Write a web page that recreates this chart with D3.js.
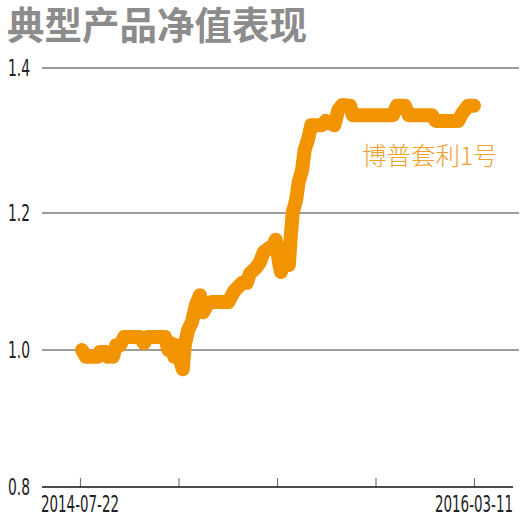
<!DOCTYPE html>
<html>
<head>
<meta charset="utf-8">
<script src="https://cdn.jsdelivr.net/npm/d3@7"></script>
<style>
    body { margin: 0; background: #fff; }
    .title { font-family: "Noto Sans CJK SC", sans-serif; font-weight: 700; fill: #8c8c8c; }
    .tick-label { font-family: "Liberation Sans Narrow", "DejaVu Sans Condensed", sans-serif; fill: #222; }
    .series-label { font-family: "Noto Sans CJK SC", sans-serif; font-weight: 300; fill: #f0a02a; }
</style>
</head>
<body>
<div id="container"></div>
<script>
// 净值数据: days after 2014-07-22, and the NAV
var startDate = "2014-07-22";
var endDate = "2016-03-11";
var days = [3, 9, 26, 30, 39, 42, 47, 50, 55, 61, 67, 91, 97, 103, 129, 134, 138, 143, 147, 152,
	    156, 159, 164, 170, 176, 182, 187, 193, 200, 225, 234, 246, 253, 258, 267, 273, 279, 287, 293, 297,
	    302, 305, 311, 317, 320, 323, 328, 332, 337, 341, 346, 351, 367, 373, 386, 392, 398, 410, 414, 475,
	    481, 493, 499, 534, 540, 574, 580, 589, 598];
var nav = [1.000, 0.990, 0.990, 0.997, 0.997, 0.990, 0.997, 0.990, 1.007, 1.007, 1.019, 1.019, 1.010, 1.019, 1.019, 1.000, 1.010, 0.990, 1.007, 0.985,
	   0.972, 1.007, 1.029, 1.041, 1.066, 1.080, 1.055, 1.066, 1.070, 1.070, 1.086, 1.098, 1.098, 1.112, 1.120, 1.128, 1.143, 1.149, 1.152, 1.161,
	   1.128, 1.114, 1.131, 1.124, 1.168, 1.201, 1.218, 1.243, 1.259, 1.287, 1.301, 1.321, 1.321, 1.327, 1.321, 1.342, 1.349, 1.348, 1.335, 1.335,
	   1.348, 1.348, 1.335, 1.335, 1.327, 1.327, 1.337, 1.348, 1.348];
var yTicks = [0.8, 1.0, 1.2, 1.4];
var seriesName = "博普套利1号";
var titleText = "典型产品净值表现";

var width = 527, height = 519;
var parse = d3.timeParse("%Y-%m-%d");
var fmt = d3.timeFormat("%Y-%m-%d");
var t0 = parse(startDate), t1 = parse(endDate);

var svg = d3.select("#container").append("svg")
    .attr("width", width)
    .attr("height", height);

var x = d3.scaleTime().domain([t0, t1]).range([80, 474]);
// the grid in the picture is not quite even, so the scale has a break at 1.2
var y = d3.scaleLinear().domain([0.8, 1.2, 1.4]).range([487, 213, 68]);

svg.append("text")
    .classed("title", true)
    .attr("x", 7)
    .attr("y", 39)
    .style("font-size", "37.5px")
    .text(titleText);

// grid lines + y labels
var grid = svg.append("g");
yTicks.forEach(function(v){
    if (v > 0.8){
	grid.append("line")
	    .attr("x1", 42).attr("x2", 519)
	    .attr("y1", y(v)).attr("y2", y(v))
	    .attr("stroke", "#7d7d7d")
	    .attr("stroke-width", 1.5);
    }
    grid.append("text")
	.classed("tick-label", true)
	.attr("x", 8)
	.attr("y", y(v))
	.attr("dy", "0.36em")
	.attr("textLength", 22)
	.attr("lengthAdjust", "spacingAndGlyphs")
	.style("font-size", "23px")
	.text(d3.format(".1f")(v));
});

// x axis
var tickDates = d3.range(5).map(function(i){
    return new Date(+t0 + i * (t1 - t0) / 4);
});
var xAxis = d3.axisTop(x)
    .tickValues(tickDates)
    .tickSize(9)
    .tickFormat("");
var ax = svg.append("g")
    .attr("transform", "translate(0," + y(0.8) + ")")
    .call(xAxis);
ax.select(".domain").remove();
ax.selectAll(".tick line").attr("stroke", "#777").attr("stroke-width", 1.2);
ax.append("line")
    .attr("x1", 42).attr("x2", 513)
    .attr("stroke", "#111")
    .attr("stroke-width", 1.5);

[t0, t1].forEach(function(d){
    svg.append("text")
	.classed("tick-label", true)
	.attr("x", x(d))
	.attr("y", 512)
	.attr("text-anchor", "middle")
	.attr("textLength", 78)
	.attr("lengthAdjust", "spacingAndGlyphs")
	.style("font-size", "23px")
	.text(fmt(d));
});

// the series
var data = days.map(function(d, i){
    return { date: d3.timeDay.offset(t0, d), value: nav[i] };
});
var line = d3.line()
    .x(function(d){ return x(d.date); })
    .y(function(d){ return y(d.value); });

svg.append("path")
    .datum(data)
    .attr("d", line)
    .attr("fill", "none")
    .attr("stroke", "#f29400")
    .attr("stroke-width", 14)
    .attr("stroke-linejoin", "round")
    .attr("stroke-linecap", "round");

svg.append("text")
    .classed("series-label", true)
    .attr("x", 362)
    .attr("y", 165)
    .style("font-size", "24.5px")
    .text(seriesName);
</script>
</body>
</html>
